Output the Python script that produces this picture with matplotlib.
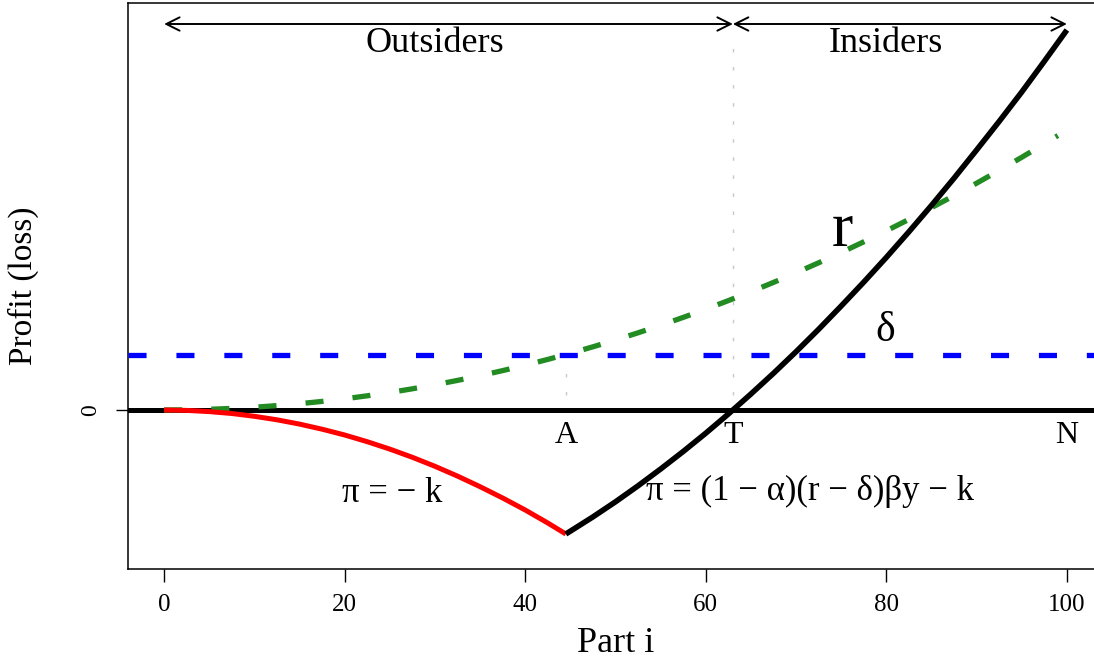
import matplotlib
matplotlib.use("Agg")
import matplotlib.pyplot as plt

plt.rcParams['font.family'] = ['Liberation Serif', 'DejaVu Serif']
plt.rcParams['lines.scale_dashes'] = False

# ---- data ----
x_r = [0, 2.5, 5, 7.5, 10, 12.5, 15, 17.5, 20, 22.5, 25, 27.5, 30, 32.5, 35, 37.5, 40, 42.5,
       45, 47.5, 50, 52.5, 55, 57.5, 60, 62.5, 65, 67.5, 70, 72.5, 75, 77.5, 80, 82.5, 85,
       87.5, 90, 92.5, 95, 97.5, 99]
y_r = [0, 0.02, 0.07, 0.16, 0.28, 0.44, 0.63, 0.86, 1.12, 1.42, 1.75, 2.12, 2.52, 2.96, 3.43,
       3.94, 4.48, 5.06, 5.67, 6.32, 7.0, 7.72, 8.47, 9.26, 10.08, 10.94, 11.83, 12.76, 13.72,
       14.72, 15.75, 16.82, 17.92, 19.06, 20.23, 21.44, 22.68, 23.96, 25.27, 26.62, 27.44]

delta = 5.5

x_out = [0, 2.5, 5, 7.5, 10, 12.5, 15, 17.5, 20, 22.5, 25, 27.5, 30, 32.5, 35, 37.5, 40, 42.5, 44.5]
y_out = [0, -0.04, -0.16, -0.35, -0.63, -0.98, -1.41, -1.92, -2.5, -3.17, -3.91, -4.73, -5.63,
         -6.61, -7.67, -8.8, -10.0, -11.3, -12.4]

x_in = [44.5, 47.5, 50, 52.5, 55, 57.5, 60, 62.5, 65, 67.5, 70, 72.5, 75, 77.5, 80, 82.5, 85,
        87.5, 90, 92.5, 95, 97.5, 100]
y_in = [-12.4, -10.69, -9.18, -7.58, -5.9, -4.15, -2.32, -0.4, 1.6, 3.67, 5.83, 8.07, 10.4,
        12.79, 15.26, 17.82, 20.46, 23.18, 26.0, 28.86, 31.8, 34.87, 38.0]

A_pos, T_pos, N_pos = 44.5, 63.0, 100.0
x_ticks = [0, 20, 40, 60, 80, 100]
y_ticks = [0]

fig = plt.figure(figsize=(10.94, 6.6), dpi=100)
ax = fig.add_axes([128/1094, 1-569/660, (1103-128)/1094, (569-3)/660])
ax.set_xlim(-4, 104)
ax.set_ylim(-15.9, 40.7)

# zero line
ax.axhline(0, color='black', lw=3.6, zorder=3)
# delta line
ax.axhline(delta, color='#0000FF', lw=3.8, dashes=(13, 21.5), zorder=3)
# r curve
ax.plot(x_r, y_r, color='#228B22', lw=3.8, dashes=(13, 21), zorder=3)
# profit curves
ax.plot(x_out, y_out, color='#FF0000', lw=3.6, zorder=4, solid_capstyle='butt')
ax.plot(x_in, y_in, color='black', lw=4.0, zorder=4, solid_capstyle='butt')

# gray dotted guides
ax.plot([T_pos, T_pos], [1.5, 37.0], color='#c8c8c8', lw=1, dashes=(2.5, 10.5), zorder=1)
ax.plot([A_pos, A_pos], [1.5, delta - 0.5], color='#c8c8c8', lw=1, dashes=(2.5, 10.5), zorder=1)

# arrows
ya = 38.6
ax.annotate('', xy=(0, ya), xytext=(T_pos, ya),
            arrowprops=dict(arrowstyle='<->', color='black', lw=1.4, mutation_scale=24, shrinkA=0, shrinkB=0))
ax.annotate('', xy=(N_pos, ya), xytext=(T_pos, ya),
            arrowprops=dict(arrowstyle='<->', color='black', lw=1.4, mutation_scale=24, shrinkA=0, shrinkB=0))
ax.text(30, 36.7, 'Outsiders', ha='center', va='center', fontsize=26)
ax.text(80, 36.7, 'Insiders', ha='center', va='center', fontsize=26)

# point labels
for xp, lab in [(A_pos, 'A'), (T_pos, 'T'), (N_pos, 'N')]:
    ax.text(xp, -2.6, lab, ha='center', va='center', fontsize=23)

ax.text(75.1, 17.9, 'r', ha='center', va='center', fontsize=46)
ax.text(79.9, 7.9, '\u03b4', ha='center', va='center', fontsize=30)
ax.text(25.3, -8.4, '\u03c0 = \u2212 k', ha='center', va='center', fontsize=25)
ax.text(71.5, -8.1, '\u03c0 = (1 \u2212 \u03b1)(r \u2212 \u03b4)\u03b2y \u2212 k',
        ha='center', va='center', fontsize=25)

ax.set_xticks(x_ticks)
ax.set_xticklabels([str(v) for v in x_ticks])
ax.set_yticks(y_ticks)
ax.set_yticklabels(['0'], rotation=90, va='center')
ax.tick_params(axis='x', length=9, width=1, labelsize=18, pad=9)
ax.tick_params(axis='y', length=9, width=1, labelsize=17, pad=10)
for s in ax.spines.values():
    s.set_linewidth(1.1)

ax.set_xlabel('Part i', fontsize=26, labelpad=8)
ax.set_ylabel('Profit (loss)', fontsize=24, labelpad=30)

fig.savefig('out.png', dpi=100)
